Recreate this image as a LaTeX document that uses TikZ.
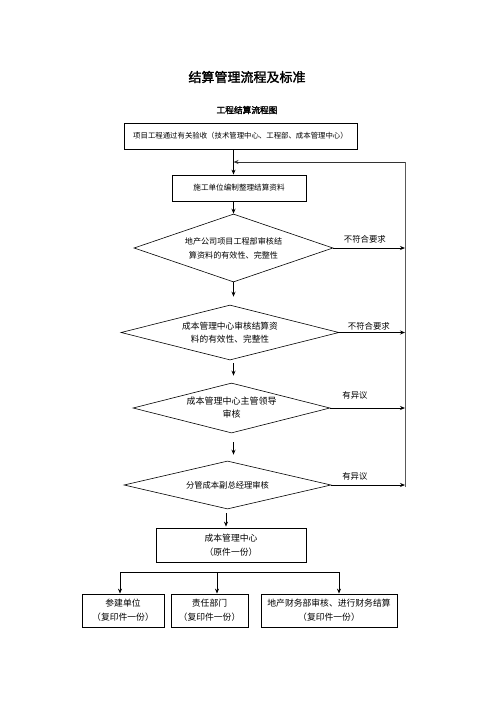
\documentclass[tikz,border=0pt]{standalone}
\usepackage{fontspec}
\newfontfamily\cjk[AutoFakeBold=2]{Noto Sans CJK SC}
\usetikzlibrary{positioning,shapes.geometric,arrows.meta}

\begin{document}
\begin{tikzpicture}[x=1pt,y=-1pt,
    box/.style={draw, line width=0.8pt, inner sep=0pt, align=center, font=\cjk\fontsize{8.8}{14}\selectfont},
    dia/.style={draw, diamond, aspect=4, line width=0.6pt, inner sep=0pt, align=center, font=\cjk\fontsize{8.5}{13}\selectfont},
    arr/.style={-{Stealth[length=5pt,width=4pt]}, line width=0.8pt},
    rail/.style={line width=1pt, black!65},
    lbl/.style={font=\cjk\fontsize{8.4}{10}\selectfont, anchor=south, inner sep=1pt}]
    \useasboundingbox (0,0) rectangle (496,702);

    % Titles
    \node[font=\cjk\bfseries\fontsize{13}{15}\selectfont] (title) at (247,77) {结算管理流程及标准};
    \node[font=\cjk\bfseries\fontsize{8.7}{10}\selectfont] (subtitle) at (247,110) {工程结算流程图};

    % Boxes and checks
    \node[box, minimum width=233pt, minimum height=26pt, font=\cjk\fontsize{7.4}{9}\selectfont] (accept) at (240.5,136) {项目工程通过有关验收（技术管理中心、工程部、成本管理中心）};
    \node[box, minimum width=134pt, minimum height=26pt, font=\cjk\fontsize{7.6}{9}\selectfont] (prepare) at (239,188) {施工单位编制整理结算资料};
    \node[dia, minimum width=199pt, minimum height=68pt, font=\cjk\fontsize{8.1}{14}\selectfont] (chkA) at (233.5,248) {地产公司项目工程部审核结\\算资料的有效性、完整性};
    \node[dia, minimum width=218pt, minimum height=55pt, font=\cjk\fontsize{8.7}{13}\selectfont] (chkB) at (230,332.5) {成本管理中心审核结算资\\料的有效性、完整性};
    \node[dia, minimum width=197pt, minimum height=50pt, font=\cjk\fontsize{9}{13}\selectfont] (chkC) at (231.5,408) {成本管理中心主管领导\\审核};
    \node[dia, minimum width=207pt, minimum height=48pt, font=\cjk\fontsize{8.3}{10}\selectfont] (chkD) at (227.5,485) {分管成本副总经理审核};
    \node[box, minimum width=150pt, minimum height=34pt] (cost) at (231,545) {成本管理中心\\（原件一份）};

    % Copies
    \node[box, minimum width=82pt, minimum height=33pt] (unit) at (123,610.5) {参建单位\\（复印件一份）};
    \node[box, minimum width=77pt, minimum height=33pt] (dept) at (209.5,610.5) {责任部门\\（复印件一份）};
    \node[box, minimum width=136pt, minimum height=33pt] (fin) at (329,610.5) {地产财务部审核、进行财务结算\\（复印件一份）};

    % Main flow
    \draw[arr] (accept.south -| chkA) -- (prepare.north -| chkA);
    \draw[arr] (prepare.south -| chkA) -- (chkA.north);
    \draw[arr, shorten >=8pt] (chkA.south) -- (chkA.south |- chkB.north);
    \draw[arr, shorten <=3pt, shorten >=7pt] (chkB.south -| chkA) -- (chkC.north -| chkA);
    \draw[arr, shorten <=9pt, shorten >=6pt] (chkC.south -| chkA) -- (chkD.north -| chkA);
    \draw[arr, shorten <=4pt, shorten >=1pt] ([xshift=-1.5pt]chkD.south) -- ([xshift=-1.5pt]chkD.south |- cost.north);

    % Return line
    \coordinate (rtop) at (405,162);
    \draw[arr] (chkA.east) -- (chkA.east -| rtop) node[lbl, pos=0.44, yshift=3.5pt] {不符合要求};
    \draw[arr] (chkB.east) -- (chkB.east -| rtop) node[lbl, pos=0.45, yshift=0.5pt] {不符合要求};
    \draw[arr] (chkC.east) -- (chkC.east -| rtop) node[lbl, pos=0.33, yshift=7.5pt] {有异议};
    \draw[arr] (chkD.east) -- (chkD.east -| rtop) node[lbl, pos=0.32, yshift=3.5pt] {有异议};
    \draw[rail] ([yshift=-2pt]chkD.east -| rtop) -- (rtop);
    \draw[arr, black!80] (rtop) -- (rtop -| chkA);

    % Distribution
    \coordinate (busL) at (120,572);
    \coordinate (busM) at (217,572);
    \coordinate (busR) at (339,572);
    \draw[line width=0.8pt] (busL) -- (busR);
    \draw[arr] (busL) -- (busL |- unit.north);
    \draw[arr] (busM) -- (busM |- dept.north);
    \draw[arr] (busR) -- (busR |- fin.north);
\end{tikzpicture}
\end{document}
